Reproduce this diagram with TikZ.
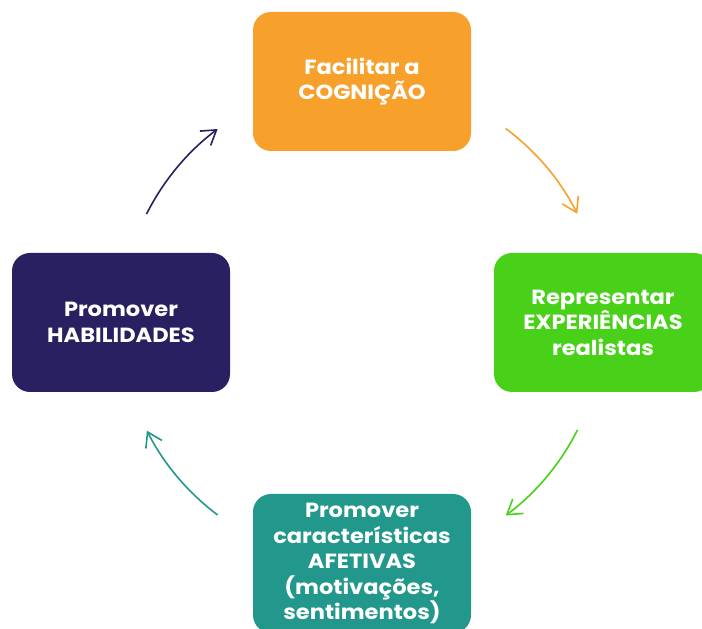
\documentclass[tikz,border=0pt]{standalone}
\usepackage{fontspec}
\setmainfont{Poppins}[FakeStretch=1.1]
\usetikzlibrary{arrows.meta}
\definecolor{corange}{RGB}{247,160,43}
\definecolor{cgreen}{RGB}{73,209,26}
\definecolor{cteal}{RGB}{34,151,139}
\definecolor{cnavy}{RGB}{40,32,96}
\tikzset{
  card/.style={rounded corners=18pt, minimum width=218pt, minimum height=139pt,
    align=center, text=white, inner sep=0pt,
    font=\fontsize{20.5}{25.5}\selectfont\bfseries},
  cyc/.style={line width=1.6pt, -{Straight Barb[length=14pt,width=18pt,line width=1.6pt]}}
}
\begin{document}
\begin{tikzpicture}[x=1pt,y=1pt]
\useasboundingbox (0,0) rectangle (702,629);
\node[card, fill=corange] (cog) at (362,547.5) {Facilitar a\\COGNIÇÃO};
\node[card, fill=cgreen] (exp) at (603,306.5) {Representar\\EXPERIÊNCIAS\\realistas};
\node[card, fill=cteal] (afe) at (362,65.5) {Promover\\características\\AFETIVAS\\(motivações,\\sentimentos)};
\node[card, fill=cnavy] (hab) at (121,306.5) {Promover\\HABILIDADES};
\coordinate (c) at (362,307);
\draw[cyc, corange] ([shift={(53.4:241)}]c) arc[start angle=53.4, end angle=26.7, radius=241];
\draw[cyc, cgreen] ([shift={(-26.6:241)}]c) arc[start angle=-26.6, end angle=-53.4, radius=241];
\draw[cyc, cteal] ([shift={(-126.8:241)}]c) arc[start angle=-126.8, end angle=-153.2, radius=241];
\draw[cyc, cnavy] ([shift={(153.4:241)}]c) arc[start angle=153.4, end angle=126.8, radius=241];
\end{tikzpicture}
\end{document}
